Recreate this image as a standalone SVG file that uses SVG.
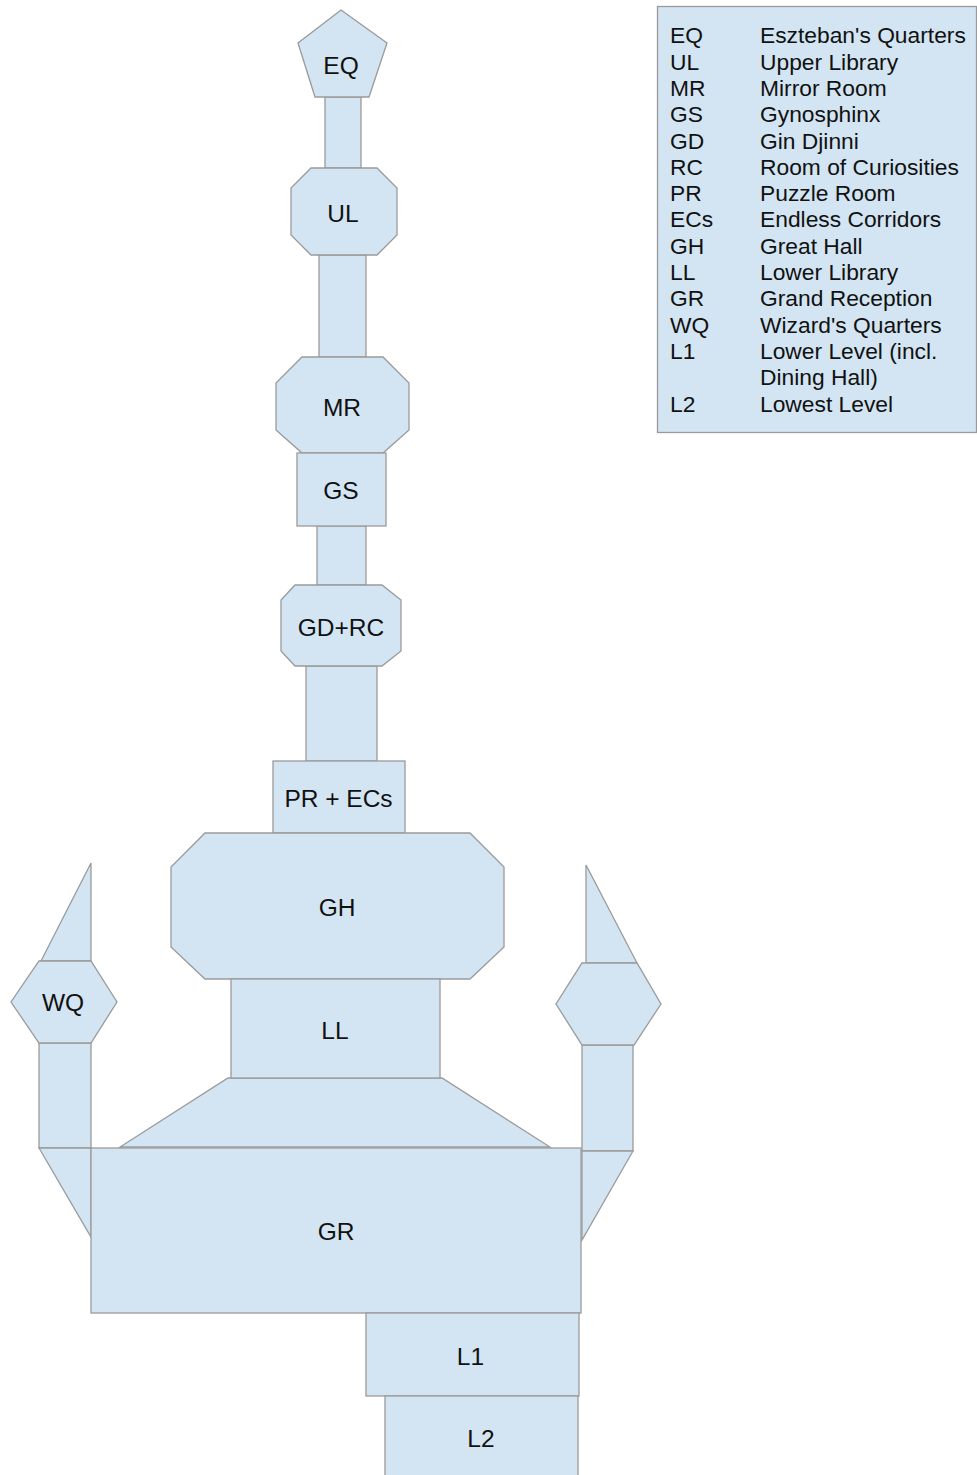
<svg xmlns="http://www.w3.org/2000/svg" width="977" height="1475" viewBox="0 0 977 1475">
<style>
.s{fill:#d3e5f3;stroke:#9a9a9a;stroke-width:1.3;stroke-linejoin:miter}
.t{font-family:"Liberation Sans",Arial,sans-serif;font-size:24.5px;fill:#111;text-anchor:middle}
.l{font-family:"Liberation Sans",Arial,sans-serif;font-size:22.8px;fill:#111}
</style>
<rect width="977" height="1475" fill="#fff"/>
<g id="connectors">
<rect class="s" x="325" y="97" width="36" height="71"/>
<rect class="s" x="319" y="255" width="47" height="102"/>
<rect class="s" x="317" y="526" width="49" height="59"/>
<rect class="s" x="306" y="666" width="71" height="95"/>
<polygon class="s" points="228,1078 442,1078 550,1147 120,1147"/>
<polygon class="s" points="91,863 91,961 41,961"/>
<rect class="s" x="39" y="1043" width="52" height="105"/>
<polygon class="s" points="39,1148 91,1148 91,1237"/>
<polygon class="s" points="586,865 637,963 586,963"/>
<rect class="s" x="582" y="1045" width="51" height="106"/>
<polygon class="s" points="582,1151 633,1151 582,1240"/>
</g>
<g id="EQ"><polygon class="s" points="341,10 387,43 369,97 315,97 298,43"/><text class="t" x="341" y="74">EQ</text></g>
<g id="UL"><polygon class="s" points="311,168 377,168 397,188 397,235 377,255 311,255 291,235 291,188"/><text class="t" x="343" y="222">UL</text></g>
<g id="MR"><polygon class="s" points="302,357 383,357 409,383 409,430 383,453 302,453 276,430 276,383"/><text class="t" x="342" y="416">MR</text></g>
<g id="GS"><rect class="s" x="297" y="453" width="89" height="73"/><text class="t" x="341" y="499">GS</text></g>
<g id="GDRC"><polygon class="s" points="295,585 382,585 401,600 401,651 382,666 295,666 281,651 281,600"/><text class="t" x="341" y="636">GD+RC</text></g>
<g id="PRECs"><rect class="s" x="273" y="761" width="132" height="72"/><text class="t" x="338.5" y="807">PR + ECs</text></g>
<g id="GH"><polygon class="s" points="205,833 470,833 504,867 504,947 470,979 205,979 171,947 171,867"/><text class="t" x="337" y="916">GH</text></g>
<g id="LL"><rect class="s" x="231" y="979" width="209" height="99"/><text class="t" x="335" y="1039">LL</text></g>
<g id="GR"><rect class="s" x="91" y="1148" width="490" height="165"/><text class="t" x="336" y="1240">GR</text></g>
<g id="L1"><rect class="s" x="366" y="1313" width="213" height="83"/><text class="t" x="470.5" y="1365">L1</text></g>
<g id="L2"><rect class="s" x="385" y="1396" width="193" height="85"/><text class="t" x="481" y="1447">L2</text></g>
<g id="WQ"><polygon class="s" points="39,961 91,961 117,1002 91,1043 39,1043 11,1002"/><text class="t" x="63" y="1011">WQ</text></g>
<g id="WQ2"><polygon class="s" points="582,963 637,963 661,1004 634,1045 582,1045 556,1004"/></g>
<g id="legend">
<rect class="s" x="657.5" y="6.5" width="319" height="426"/>
<g class="l">
<text x="670" y="43.3">EQ</text><text x="760" y="43.3">Eszteban's Quarters</text>
<text x="670" y="69.6">UL</text><text x="760" y="69.6">Upper Library</text>
<text x="670" y="95.9">MR</text><text x="760" y="95.9">Mirror Room</text>
<text x="670" y="122.2">GS</text><text x="760" y="122.2">Gynosphinx</text>
<text x="670" y="148.5">GD</text><text x="760" y="148.5">Gin Djinni</text>
<text x="670" y="174.8">RC</text><text x="760" y="174.8">Room of Curiosities</text>
<text x="670" y="201.1">PR</text><text x="760" y="201.1">Puzzle Room</text>
<text x="670" y="227.4">ECs</text><text x="760" y="227.4">Endless Corridors</text>
<text x="670" y="253.7">GH</text><text x="760" y="253.7">Great Hall</text>
<text x="670" y="280">LL</text><text x="760" y="280">Lower Library</text>
<text x="670" y="306.3">GR</text><text x="760" y="306.3">Grand Reception</text>
<text x="670" y="332.6">WQ</text><text x="760" y="332.6">Wizard's Quarters</text>
<text x="670" y="358.9">L1</text><text x="760" y="358.9">Lower Level (incl.</text>
<text x="760" y="385.2">Dining Hall)</text>
<text x="670" y="411.5">L2</text><text x="760" y="411.5">Lowest Level</text>
</g>
</g>
</svg>
